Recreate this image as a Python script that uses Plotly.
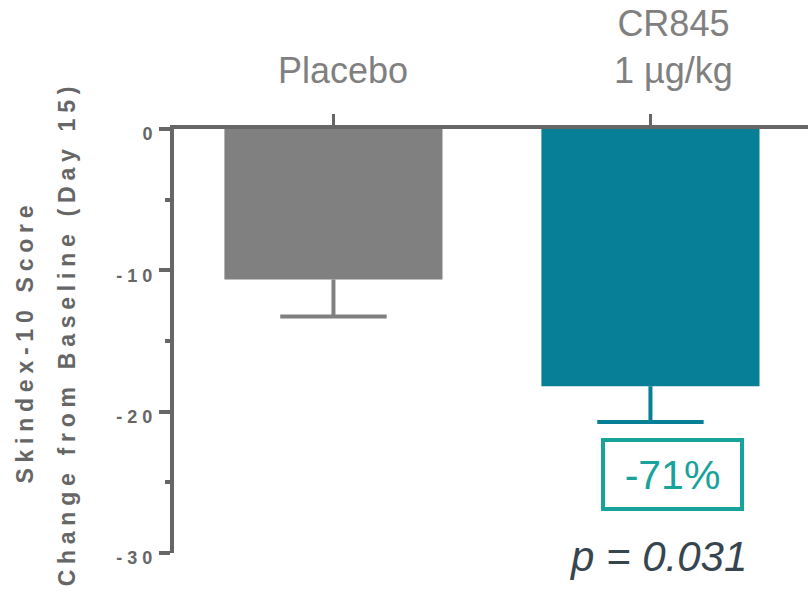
import plotly.graph_objects as go

# Data
categories = ["Placebo", "CR845<br>1 µg/kg"]
mean_change = [-10.65, -18.2]
sem = [2.62, 2.53]
bar_colors = ["#808080", "#077f96"]
y_ticks = [0, -10, -20, -30]
y_minor_ticks = [-5, -15, -25]
reduction_label = "-71%"
p_label = "p = 0.031"

x_pos = list(range(len(categories)))
AXIS = "#666666"
FONT = "Liberation Sans, Arial"


def spaced(text, gap="\u2005"):
    """Spread out the letters of a label."""
    return gap.join("\u00a0" if c == " " else c for c in text)


fig = go.Figure()
for i, cat in enumerate(categories):
    # bar with the downward whisker of its error bar
    fig.add_trace(go.Bar(
        x=[x_pos[i]], y=[mean_change[i]], width=0.688,
        marker=dict(color=bar_colors[i], line=dict(width=0)),
        error_y=dict(type="data", symmetric=False, array=[0], arrayminus=[sem[i]],
                     color=bar_colors[i], thickness=4, width=0),
        showlegend=False, name=cat.replace("<br>", " "),
    ))

# end caps of the error bars (line-ew spans 1.4x the marker size)
fig.add_trace(go.Scatter(
    x=x_pos, y=[m - s for m, s in zip(mean_change, sem)], mode="markers",
    marker=dict(symbol="line-ew", size=76, color=bar_colors,
                line=dict(width=4, color=bar_colors)),
    showlegend=False, hoverinfo="skip",
))

# category labels above the top axis
label_shift = [10, 23]
for i, cat in enumerate(categories):
    fig.add_annotation(
        x=x_pos[i], y=1, xref="x", yref="paper", xanchor="center", yanchor="bottom",
        xshift=label_shift[i], yshift=36, text=cat, showarrow=False,
        font=dict(family=FONT, size=36, color="#808080"),
    )

# y-axis title, two letter-spaced lines
title_lines = ["Skindex-10 Score", "Change from Baseline (Day 15)"]
title_x = [-0.235, -0.169]
title_y = [0.4917, 0.5106]
for t, xx, yy in zip(title_lines, title_x, title_y):
    fig.add_annotation(
        x=xx, y=yy, xref="paper", yref="paper", xanchor="center", yanchor="middle",
        text=spaced(t), textangle=-90, showarrow=False,
        font=dict(family=FONT, size=23, color=AXIS, weight="bold"),
    )

# reduction box and p-value
fig.add_annotation(
    x=x_pos[1], y=-24.45, xref="x", yref="y", xshift=22, text=reduction_label,
    showarrow=False, width=135, height=65, borderpad=0, borderwidth=4,
    bordercolor="#17a29b",
    font=dict(family=FONT, size=41, color="#17a29b"),
)
fig.add_annotation(
    x=x_pos[1], y=-30, xref="x", yref="y", xshift=8, yshift=-3, yanchor="middle",
    text=p_label, showarrow=False,
    font=dict(family=FONT, size=42, color="#37454f", style="italic"),
)

fig.update_layout(
    width=808, height=592,
    margin=dict(l=174, r=0, t=129, b=39),
    paper_bgcolor="white", plot_bgcolor="white",
    barmode="overlay",
    xaxis=dict(
        side="top", range=[-0.503, 1.497], tickvals=x_pos, showticklabels=False,
        ticks="outside", ticklen=11, tickwidth=3, tickcolor=AXIS,
        showline=True, linewidth=4, linecolor=AXIS, showgrid=False, zeroline=False,
    ),
    yaxis=dict(
        range=[-30, 0], tickvals=y_ticks,
        ticktext=[spaced(str(v), "\u00a0") for v in y_ticks],
        ticks="outside", ticklen=11, tickwidth=4, tickcolor=AXIS,
        minor=dict(tickvals=y_minor_ticks, ticks="outside", ticklen=5, tickwidth=4,
                   tickcolor=AXIS),
        tickfont=dict(family=FONT, size=18, color=AXIS, weight="bold"),
        ticklabelstandoff=3, ticklabelshift=5,
        showline=True, linewidth=4, linecolor=AXIS, showgrid=False, zeroline=False,
    ),
)

fig.write_html("out.html")
